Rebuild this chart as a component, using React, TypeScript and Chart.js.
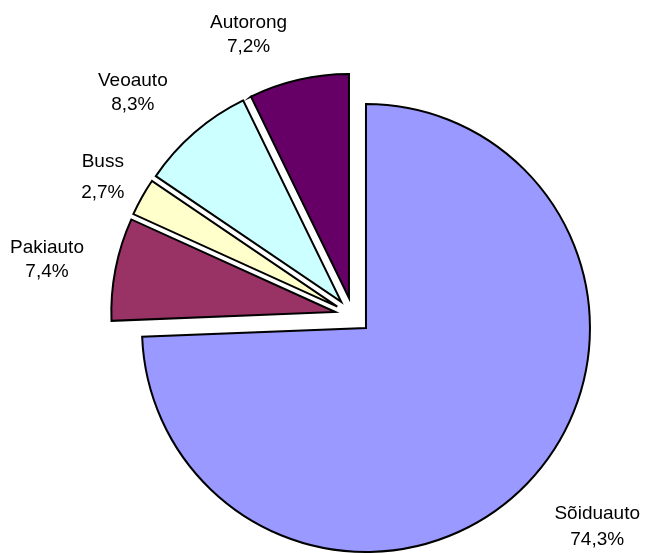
import React, { useEffect, useRef } from 'react';
import { Chart, PieController, ArcElement } from 'chart.js';

Chart.register(PieController, ArcElement);

// ---- data ----
const categories: string[] = ['Sõiduauto', 'Pakiauto', 'Buss', 'Veoauto', 'Autorong'];
const shares: number[] = [74.3, 7.4, 2.7, 8.3, 7.2];
const sliceColors: string[] = ['#9999FF', '#993366', '#FFFFCC', '#CCFFFF', '#660066'];
const percentLabels: string[] = shares.map((v) => v.toFixed(1).replace('.', ',') + '%');

// ---- layout constants (not data) ----
const EXPLODE = 18;
const LABEL_DIST = [323, 311, 286, 313, 300];
const LABEL_ANGLE_ADJ = [-3, -0.8, -0.3, -3.8, -7.4];
const LABEL_LINE_GAP = [26, 24, 31, 24, 24];
const FONT_SIZE = 19;

const explodePlugin = {
  id: 'explodeAll',
  afterDatasetUpdate(chart: any, args: any) {
    const meta = chart.getDatasetMeta(args.index);
    meta.data.forEach((arc: any) => {
      const mid = (arc.startAngle + arc.endAngle) / 2;
      arc.x += Math.cos(mid) * EXPLODE;
      arc.y += Math.sin(mid) * EXPLODE;
    });
  },
};

const labelPlugin = {
  id: 'outsideLabels',
  afterDatasetsDraw(chart: any) {
    const ctx = chart.ctx as CanvasRenderingContext2D;
    const meta = chart.getDatasetMeta(0);
    ctx.save();
    ctx.font = `${FONT_SIZE}px "Liberation Sans", Arial, sans-serif`;
    ctx.fillStyle = '#000000';
    ctx.textAlign = 'center';
    ctx.textBaseline = 'middle';
    meta.data.forEach((arc: any, i: number) => {
      const m0 = (arc.startAngle + arc.endAngle) / 2;
      const bx = arc.x - Math.cos(m0) * EXPLODE;
      const by = arc.y - Math.sin(m0) * EXPLODE;
      const a = m0 + (LABEL_ANGLE_ADJ[i] * Math.PI) / 180;
      const lx = bx + Math.cos(a) * LABEL_DIST[i];
      const ly = by + Math.sin(a) * LABEL_DIST[i];
      const g = LABEL_LINE_GAP[i];
      ctx.fillText(categories[i], lx, ly - g / 2);
      ctx.fillText(percentLabels[i], lx, ly + g / 2);
    });
    ctx.restore();
  },
};

export default function App() {
  const ref = useRef<HTMLCanvasElement | null>(null);
  useEffect(() => {
    if (!ref.current) return;
    const chart = new Chart(ref.current, {
      type: 'pie',
      data: {
        labels: categories,
        datasets: [
          {
            data: shares,
            backgroundColor: sliceColors,
            borderColor: '#000000',
            borderWidth: 2,
            borderJoinStyle: 'miter',
          } as any,
        ],
      },
      options: {
        responsive: false,
        animation: false,
        radius: 224,
        layout: { padding: { left: 59, right: 0, top: 78, bottom: 0 } },
        plugins: { legend: { display: false }, tooltip: { enabled: false } },
        events: [],
      } as any,
      plugins: [explodePlugin, labelPlugin],
    });
    return () => chart.destroy();
  }, []);
  return (
    <canvas
      ref={ref}
      width={647}
      height={553}
      style={{ position: 'absolute', left: 0, top: 0, width: 647, height: 553, background: '#fff' }}
    />
  );
}
